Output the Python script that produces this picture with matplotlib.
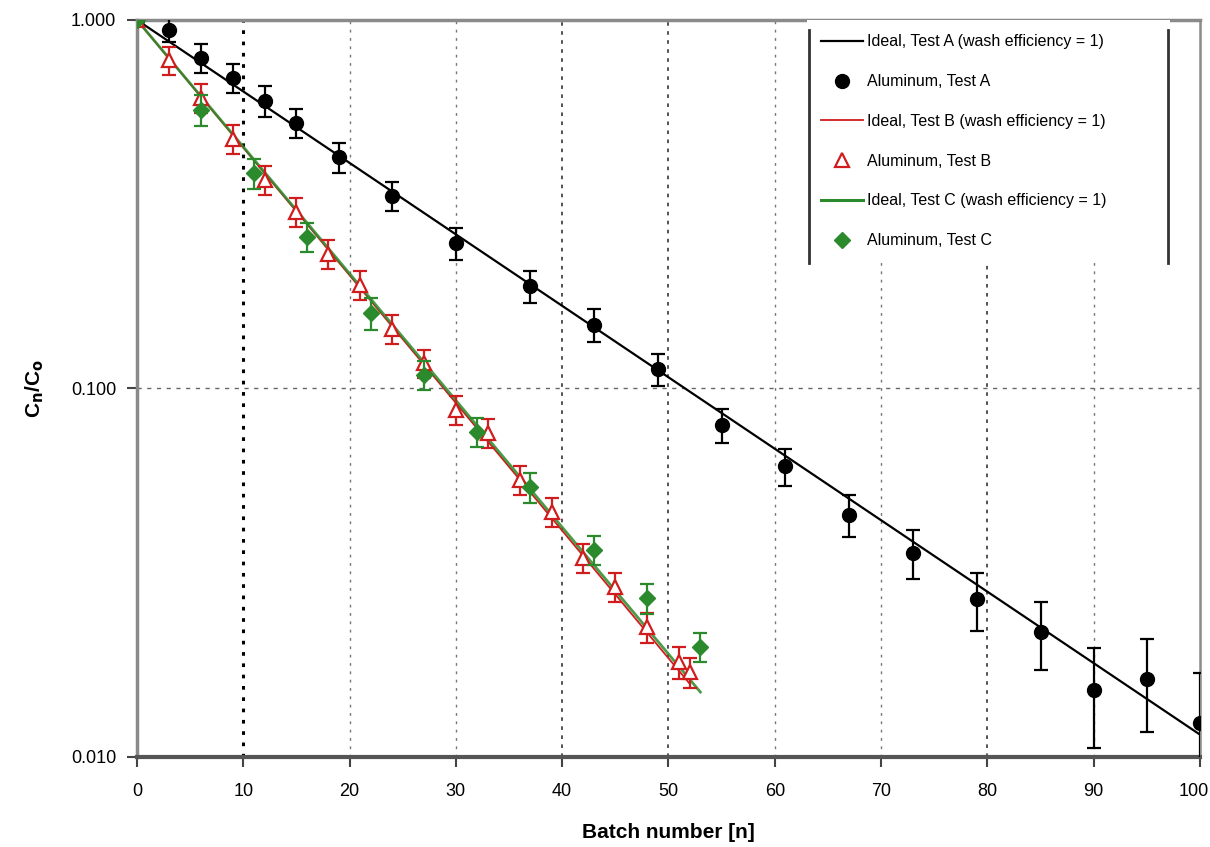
import numpy as np
import matplotlib
matplotlib.use("Agg")
from matplotlib import pyplot as plt
from matplotlib.lines import Line2D
from matplotlib.transforms import ScaledTranslation

plt.rcParams["font.family"] = ["Liberation Sans", "DejaVu Sans"]

# ideal curves (end points of straight lines on the log axis)
ideal_a_n = [0, 100]
ideal_a_c = [1.0, 0.0115]
ideal_b_n = [0, 52]
ideal_b_c = [1.0, 0.0158]
ideal_c_n = [0, 53]
ideal_c_c = [1.0, 0.0150]

# aluminum, test A
alum_a_n = [0, 3, 6, 9, 12, 15, 19, 24, 30, 37, 43, 49, 55, 61, 67, 73, 79, 85, 90, 95, 100]
alum_a_c = [1.0, 0.94, 0.788, 0.696, 0.603, 0.525, 0.425, 0.333, 0.248, 0.190, 0.149,
            0.113, 0.0796, 0.0616, 0.0454, 0.0358, 0.0268, 0.0218, 0.0152, 0.0163, 0.0124]
alum_a_err = [0, 0.07, 0.071, 0.063, 0.057, 0.047, 0.040, 0.030, 0.025, 0.019, 0.015,
              0.0113, 0.0084, 0.0071, 0.0059, 0.0054, 0.0048, 0.0046, 0.0046, 0.0046, 0.0045]

# aluminum, test B
alum_b_n = [0, 3, 6, 9, 12, 15, 18, 21, 24, 27, 30, 33, 36, 39, 42, 45, 48, 51, 52]
alum_b_c = [1.0, 0.779, 0.614, 0.475, 0.368, 0.301, 0.232, 0.191, 0.145, 0.117, 0.0874,
            0.0757, 0.0565, 0.0462, 0.0347, 0.0289, 0.0225, 0.0181, 0.0170]
alum_b_err = [0, 0.068, 0.055, 0.043, 0.033, 0.027, 0.021, 0.017, 0.013, 0.0105, 0.0079,
              0.0068, 0.0051, 0.0042, 0.0031, 0.0026, 0.0021, 0.0018, 0.0016]

# aluminum, test C
alum_c_n = [0, 6, 11, 16, 22, 27, 32, 37, 43, 48, 53]
alum_c_c = [1.0, 0.570, 0.384, 0.258, 0.160, 0.109, 0.0762, 0.054, 0.0365, 0.027, 0.0199]
alum_c_err = [0, 0.055, 0.036, 0.024, 0.016, 0.010, 0.007, 0.005, 0.0033, 0.0025, 0.0018]

x_ticks = [0, 10, 20, 30, 40, 50, 60, 70, 80, 90, 100]
y_ticks = [0.01, 0.1, 1.0]
y_tick_labels = ["0.010", "0.100", "1.000"]

red = "#d01c1c"
green = "#2b8a2b"

fig = plt.figure(figsize=(12.1, 8.47), dpi=100)
ax = fig.add_axes([0.1132, 0.1063, 0.8785, 0.8701])
ax.set_yscale("log")
ax.set_xlim(0, 100)
ax.set_ylim(0.01, 1.0)

# grid
for xv in x_ticks[1:-1]:
    if xv == 10:
        ax.axvline(xv, color="black", lw=2.2, ls=(0, (1.2, 2.5)), zorder=0)
    elif xv in (40, 50, 80):
        ax.axvline(xv, color="#444444", lw=1.3, ls=(0, (2, 3)), zorder=0)
    else:
        ax.axvline(xv, color="#777777", lw=1.0, ls=(0, (2, 4)), zorder=0)
ax.axhline(0.1, color="#666666", lw=1.0, ls=(0, (3, 4)), zorder=0)

ax.plot(ideal_a_n, ideal_a_c, color="black", lw=1.6, zorder=3)
ax.errorbar(alum_a_n, alum_a_c, yerr=alum_a_err, fmt="o", color="black", ms=10,
            elinewidth=1.6, capsize=5, capthick=1.6, zorder=4)
ax.plot(ideal_b_n, ideal_b_c, color=red, lw=1.3, zorder=3)
ax.errorbar(alum_b_n, alum_b_c, yerr=alum_b_err, fmt="^", color=red, mfc="white", mec=red,
            mew=1.6, ms=10, elinewidth=1.6, capsize=5, capthick=1.6, zorder=4)
ax.plot(ideal_c_n, ideal_c_c, color=green, lw=2.0, alpha=0.85, zorder=3)
ax.errorbar(alum_c_n, alum_c_c, yerr=alum_c_err, fmt="D", color=green, ms=8,
            elinewidth=1.6, capsize=5, capthick=1.6, zorder=5)

handles = [
    Line2D([], [], color="black", lw=1.6),
    Line2D([], [], ls="none", marker="o", color="black", ms=10),
    Line2D([], [], color=red, lw=1.3),
    Line2D([], [], ls="none", marker="^", mfc="white", mec=red, mew=1.6, ms=10),
    Line2D([], [], color=green, lw=2.2),
    Line2D([], [], ls="none", marker="D", color=green, ms=8),
]
labels = [
    "Ideal, Test A (wash efficiency = 1)",
    "Aluminum, Test A",
    "Ideal, Test B (wash efficiency = 1)",
    "Aluminum, Test B",
    "Ideal, Test C (wash efficiency = 1)",
    "Aluminum, Test C",
]

ax.set_xticks(x_ticks)
ax.set_xticklabels([str(v) for v in x_ticks])
ax.set_yticks(y_ticks)
ax.set_yticklabels(y_tick_labels)
ax.yaxis.set_minor_locator(matplotlib.ticker.NullLocator())
ax.tick_params(axis="both", labelsize=13, length=7, width=1.5, color="#444444", pad=8)
ax.tick_params(axis="x", pad=12)
last = ax.get_xticklabels()[-1]
last.set_transform(last.get_transform() + ScaledTranslation(-6 / 100, 0, fig.dpi_scale_trans))

for side in ("left", "top", "right"):
    ax.spines[side].set_color("#8a8a8a")
    ax.spines[side].set_linewidth(2.5)
ax.spines["right"].set_linewidth(1.8)
ax.spines["bottom"].set_color("#555555")
ax.spines["bottom"].set_linewidth(3)

ax.set_xlabel("Batch number [n]", fontsize=15, fontweight="bold", labelpad=16)
ax.set_ylabel("C$_\\mathbf{n}$/C$_\\mathbf{o}$", fontsize=15, fontweight="bold", labelpad=18)

leg = ax.legend(handles, labels, loc="upper left", bbox_to_anchor=(0.630, 1.0, 0.342, 0.0),
                mode="expand", fontsize=11.5, frameon=True, fancybox=False, framealpha=1.0,
                edgecolor="none", facecolor="white", borderpad=0.9, labelspacing=1.55,
                handlelength=2.6, handletextpad=0.3, borderaxespad=0.0, numpoints=1)
leg.set_zorder(10)

fig.canvas.draw()
bb = leg.get_window_extent().transformed(fig.transFigure.inverted())
for xx in (bb.x0 + 0.002, bb.x1 - 0.002):
    fig.add_artist(Line2D([xx, xx], [bb.y0, bb.y1 - 0.012], color="#333333", lw=2.0, zorder=20))

fig.savefig("out.png", dpi=100)
